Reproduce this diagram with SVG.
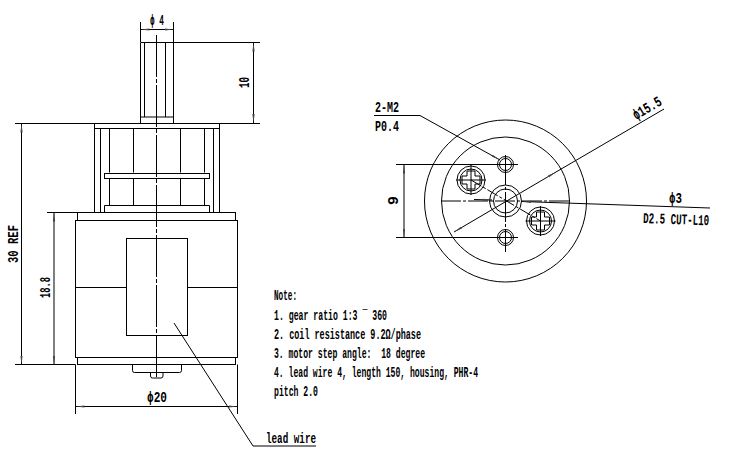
<svg xmlns="http://www.w3.org/2000/svg" width="750" height="460" viewBox="0 0 750 460">
<style>
.l{fill:none;stroke:#000;stroke-width:1}
.c{fill:none;stroke:#000;stroke-width:1;stroke-dasharray:26 2 3 2}
.t{font-family:"Liberation Mono","DejaVu Sans Mono",monospace;font-weight:bold;font-size:15px;fill:#000}
.d{fill:none;stroke:#000;stroke-width:1;marker-start:url(#a);marker-end:url(#a)}
.e{fill:none;stroke:#000;stroke-width:1;marker-end:url(#a)}
</style>
<defs>
<marker id="a" markerUnits="userSpaceOnUse" markerWidth="10" markerHeight="4" refX="9" refY="2" orient="auto-start-reverse" viewBox="0 0 10 4"><path d="M0 .9L9 2L0 3.1Z" fill="#444"/></marker>
<g id="screw">
<circle class="l" r="14"/><circle class="l" r="11"/>
<path class="l" d="M-4-9H4V-4H9V4H4V9H-4V4H-9V-4H-4Z"/>
<path class="l" d="M-15 0H15M0-15V15"/>
</g>
<g id="hole"><circle class="l" r="8"/><circle class="l" r="6"/></g>
</defs>
<rect width="750" height="460" fill="#fff"/>
<g id="shaft">
<path class="l" d="M140.500 123V42.500H173.500V123M144.500 42.500V117M165.500 42.500V117M140.500 117H173.500"/>
</g>
<g id="gearbox">
<rect class="l" x="94.500" y="123.500" width="125" height="5"/>
<path class="l" d="M94.500 128.500V212M100.500 128.500V212M213.500 128.500V212M219.500 128.500V212"/>
<path class="c" d="M109.500 128.500V205.500M133.500 128.500V205.500M180.500 128.500V205.500M204.500 128.500V205.500" style="stroke-dasharray:44 1 3 1"/>
<rect x="104.500" y="173.500" width="105" height="5" fill="#fff" stroke="#000"/>
<path fill="#fff" stroke="#000" d="M104.500 212V205.500H209.500V212"/>
</g>
<g id="motor">
<rect class="l" x="77.500" y="212.500" width="158" height="8"/>
<rect class="l" x="75.500" y="220.500" width="162" height="137"/>
<rect class="l" x="77.500" y="357.500" width="158" height="7"/>
<rect class="l" x="126.500" y="238.500" width="61" height="97"/>
<path class="l" d="M75.500 287.500H126.500M187.500 287.500H237.500"/>
<path class="l" d="M132.500 364.500V370.500Q132.500 372.500 134.500 372.500H179.500Q181.500 372.500 181.500 370.500V364.500"/>
<path class="l" d="M150.500 372.500V376Q150.500 378 152.500 378H161Q163 378 163 376V372.500"/>
</g>
<g id="end-view">
<circle class="l" cx="505.500" cy="201" r="81"/>
<circle class="l" cx="505.500" cy="201" r="64"/>
<circle class="l" cx="505.500" cy="201" r="16"/>
<circle class="l" cx="505.500" cy="201" r="12"/>
<use href="#hole" x="505.500" y="164.500"/>
<use href="#hole" x="505.500" y="237.500"/>
<use href="#screw" x="471" y="180"/>
<use href="#screw" x="540.500" y="221"/>
<path class="c" d="M471 180L540.500 221" style="stroke-dasharray:12 2 3 2"/>
<path class="c" d="M441 201H569" style="stroke-dasharray:20 2 3 2"/>
<path class="c" d="M505.500 155V252" style="stroke-dasharray:30 2 3 2"/>
</g>
<g id="connectors">
<path class="c" d="M156.500 35V378" style="stroke-dasharray:42 2 4 2"/>
<path class="l" d="M140.500 22V42M173.500 22V42M173 42.500H260M15 123.500H260M47 212.500H77M15 364.500H75.500M75.500 364.500V414M237.500 364.500V414M396 164.500H518M396 237.500H518"/>
<path class="d" d="M140.500 29.500H173.500"/>
<path class="d" d="M253.500 42.500V123"/>
<path class="d" d="M21.500 123.500V364.500"/>
<path class="d" d="M54 212.500V364.500"/>
<path class="d" d="M75.500 406.500H237.500"/>
<path class="d" d="M404 164.500V237.500"/>
<path class="d" d="M454 232L556 172"/>
<path class="l" d="M556 172L664 109"/>
<path class="l" stroke-width=".8" d="M174 323L253 446H316"/>
<path class="l" d="M374 115.500H420"/>
<path class="e" d="M420 115.500L500 160"/>
<path class="e" d="M474 199.500L492 200"/>
<path class="e" d="M710 208L522 201.500"/>
</g>
<g id="labels">
<text class="t" x="150" y="25" textLength="14" lengthAdjust="spacingAndGlyphs">ϕ 4</text>
<text class="t" transform="translate(249 88) rotate(-90)" textLength="11" lengthAdjust="spacingAndGlyphs">10</text>
<text class="t" transform="translate(18 263) rotate(-90)" textLength="38" lengthAdjust="spacingAndGlyphs">30 REF</text>
<text class="t" transform="translate(50 298) rotate(-90)" textLength="21" lengthAdjust="spacingAndGlyphs">18.8</text>
<text class="t" x="147" y="402" textLength="20" lengthAdjust="spacingAndGlyphs">ϕ20</text>
<text class="t" x="266" y="443" textLength="50" lengthAdjust="spacingAndGlyphs">lead wire</text>
<text class="t" x="375" y="112" textLength="24" lengthAdjust="spacingAndGlyphs">2-M2</text>
<text class="t" x="375" y="131" textLength="24" lengthAdjust="spacingAndGlyphs">P0.4</text>
<text class="t" transform="translate(636 120) rotate(-30)" textLength="31" lengthAdjust="spacingAndGlyphs">ϕ15.5</text>
<text class="t" transform="translate(398 205) rotate(-90)" textLength="9" lengthAdjust="spacingAndGlyphs">9</text>
<text class="t" x="669" y="203" textLength="13" lengthAdjust="spacingAndGlyphs">ϕ3</text>
<text class="t" transform="translate(643 223) rotate(2)" textLength="66" lengthAdjust="spacingAndGlyphs">D2.5 CUT-L10</text>
</g>
<g id="notes">
<text class="t" x="274" y="300" textLength="23" lengthAdjust="spacingAndGlyphs">Note:</text>
<text class="t" x="274" y="320" textLength="113" lengthAdjust="spacingAndGlyphs">1. gear ratio 1:3 ¯ 360</text>
<text class="t" x="274" y="339" textLength="147" lengthAdjust="spacingAndGlyphs">2. coil resistance 9.2Ω/phase</text>
<text class="t" x="274" y="358" textLength="151" lengthAdjust="spacingAndGlyphs">3. motor step angle:&#160; 18 degree</text>
<text class="t" x="274" y="377" textLength="204" lengthAdjust="spacingAndGlyphs">4. lead wire 4, length 150, housing, PHR-4</text>
<text class="t" x="274" y="396" textLength="44" lengthAdjust="spacingAndGlyphs">pitch 2.0</text>
</g>
</svg>
